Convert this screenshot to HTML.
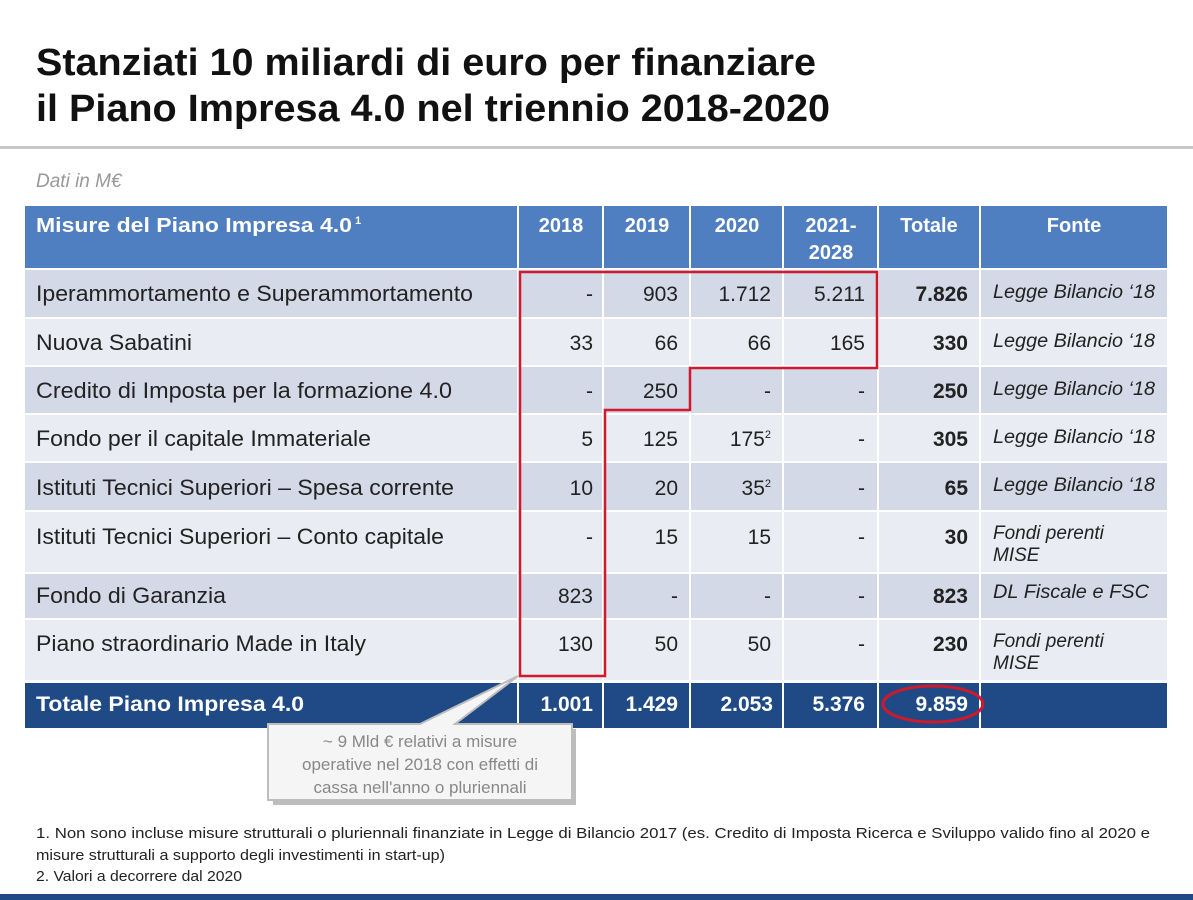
<!DOCTYPE html>
<html><head><meta charset="utf-8"><style>
html,body{margin:0;padding:0;background:#fff;}
svg{display:block;font-family:"Liberation Sans",Arial,sans-serif;}
</style></head><body>
<svg width="1193" height="900" viewBox="0 0 1193 900" xmlns="http://www.w3.org/2000/svg">
<rect width="1193" height="900" fill="#fff"/>
<text x="36" y="75" font-size="38" font-weight="bold" fill="#111" textLength="780" lengthAdjust="spacingAndGlyphs">Stanziati 10 miliardi di euro per finanziare</text>
<text x="36" y="121" font-size="38" font-weight="bold" fill="#111" textLength="794" lengthAdjust="spacingAndGlyphs">il Piano Impresa 4.0 nel triennio 2018-2020</text>
<rect x="0" y="146" width="1193" height="3" fill="#c8c8c8"/>
<text x="36" y="187" font-size="19" font-style="italic" fill="#999">Dati in M€</text>

<rect x="25" y="206" width="1142" height="62" fill="#4f7fc0"/>
<g fill="#fff" font-weight="bold" font-size="20">
<text x="36" y="232"><tspan textLength="316" lengthAdjust="spacingAndGlyphs">Misure del Piano Impresa 4.0</tspan><tspan font-size="11" dy="-8"> 1</tspan></text>
<text x="561" y="232" text-anchor="middle">2018</text>
<text x="647" y="232" text-anchor="middle">2019</text>
<text x="737" y="232" text-anchor="middle">2020</text>
<text x="831" y="232" text-anchor="middle">2021-</text>
<text x="831" y="259" text-anchor="middle">2028</text>
<text x="929" y="232" text-anchor="middle">Totale</text>
<text x="1074" y="232" text-anchor="middle">Fonte</text>
</g>

<rect x="25" y="270" width="1142" height="47" fill="#d3d9e7"/>
<rect x="25" y="319" width="1142" height="46" fill="#e9ecf3"/>
<rect x="25" y="367" width="1142" height="46" fill="#d3d9e7"/>
<rect x="25" y="415" width="1142" height="46" fill="#e9ecf3"/>
<rect x="25" y="463" width="1142" height="47" fill="#d3d9e7"/>
<rect x="25" y="512" width="1142" height="60" fill="#e9ecf3"/>
<rect x="25" y="574" width="1142" height="44" fill="#d3d9e7"/>
<rect x="25" y="620" width="1142" height="60" fill="#e9ecf3"/>
<rect x="25" y="683" width="1142" height="45" fill="#1f4a85"/>
<g stroke="#fff" stroke-width="2">
<line x1="518" y1="206" x2="518" y2="728"/><line x1="603" y1="206" x2="603" y2="728"/>
<line x1="690" y1="206" x2="690" y2="728"/><line x1="783" y1="206" x2="783" y2="728"/>
<line x1="878" y1="206" x2="878" y2="728"/><line x1="980" y1="206" x2="980" y2="728"/>
</g>

<g font-size="22" fill="#222" lengthAdjust="spacingAndGlyphs">
<text x="36" y="301" textLength="437" lengthAdjust="spacingAndGlyphs">Iperammortamento e Superammortamento</text>
<text x="36" y="350" textLength="156" lengthAdjust="spacingAndGlyphs">Nuova Sabatini</text>
<text x="36" y="398" textLength="416" lengthAdjust="spacingAndGlyphs">Credito di Imposta  per la formazione 4.0</text>
<text x="36" y="446" textLength="335" lengthAdjust="spacingAndGlyphs">Fondo per il capitale Immateriale</text>
<text x="36" y="495" textLength="418" lengthAdjust="spacingAndGlyphs">Istituti Tecnici Superiori – Spesa corrente</text>
<text x="36" y="544" textLength="408" lengthAdjust="spacingAndGlyphs">Istituti Tecnici Superiori – Conto capitale</text>
<text x="36" y="603" textLength="190" lengthAdjust="spacingAndGlyphs">Fondo di Garanzia</text>
<text x="36" y="651" textLength="330" lengthAdjust="spacingAndGlyphs">Piano straordinario Made in Italy</text>
</g>
<g font-size="21" fill="#222" text-anchor="end">
<text x="593" y="301">-</text><text x="678" y="301">903</text><text x="771" y="301">1.712</text><text x="865" y="301">5.211</text>
<text x="593" y="350">33</text><text x="678" y="350">66</text><text x="771" y="350">66</text><text x="865" y="350">165</text>
<text x="593" y="398">-</text><text x="678" y="398">250</text><text x="771" y="398">-</text><text x="865" y="398">-</text>
<text x="593" y="446">5</text><text x="678" y="446">125</text><text x="771" y="446">175<tspan font-size="11" dy="-8">2</tspan></text><text x="865" y="446">-</text>
<text x="593" y="495">10</text><text x="678" y="495">20</text><text x="771" y="495">35<tspan font-size="11" dy="-8">2</tspan></text><text x="865" y="495">-</text>
<text x="593" y="544">-</text><text x="678" y="544">15</text><text x="771" y="544">15</text><text x="865" y="544">-</text>
<text x="593" y="603">823</text><text x="678" y="603">-</text><text x="771" y="603">-</text><text x="865" y="603">-</text>
<text x="593" y="651">130</text><text x="678" y="651">50</text><text x="771" y="651">50</text><text x="865" y="651">-</text>
</g>
<g font-size="21" font-weight="bold" fill="#222" text-anchor="end">
<text x="968" y="301">7.826</text><text x="968" y="350">330</text><text x="968" y="398">250</text>
<text x="968" y="446">305</text><text x="968" y="495">65</text><text x="968" y="544">30</text>
<text x="968" y="603">823</text><text x="968" y="651">230</text>
</g>
<g font-size="19" font-style="italic" fill="#222">
<text x="993" y="298" textLength="162" lengthAdjust="spacingAndGlyphs">Legge Bilancio ‘18</text>
<text x="993" y="347" textLength="162" lengthAdjust="spacingAndGlyphs">Legge Bilancio ‘18</text>
<text x="993" y="395" textLength="162" lengthAdjust="spacingAndGlyphs">Legge Bilancio ‘18</text>
<text x="993" y="443" textLength="162" lengthAdjust="spacingAndGlyphs">Legge Bilancio ‘18</text>
<text x="993" y="491" textLength="162" lengthAdjust="spacingAndGlyphs">Legge Bilancio ‘18</text>
<text x="993" y="539">Fondi perenti</text><text x="993" y="561">MISE</text>
<text x="993" y="598" textLength="156" lengthAdjust="spacingAndGlyphs">DL Fiscale e FSC</text>
<text x="993" y="647">Fondi perenti</text><text x="993" y="669">MISE</text>
</g>
<g font-size="21" font-weight="bold" fill="#fff">
<text x="36" y="711" textLength="268" lengthAdjust="spacingAndGlyphs">Totale Piano Impresa 4.0</text>
<g text-anchor="end">
<text x="593" y="711">1.001</text><text x="678" y="711">1.429</text><text x="773" y="711">2.053</text><text x="865" y="711">5.376</text><text x="968" y="711">9.859</text>
</g></g>
<ellipse cx="933" cy="704" rx="50" ry="18" fill="none" stroke="#d0192b" stroke-width="3"/>

<polygon points="520,272 877,272 877,368 690,368 690,410 605,410 605,676 520,676" fill="none" stroke="#d0192b" stroke-width="2.5"/>

<rect x="273" y="729" width="303" height="76" fill="#bdbdbd"/>
<polygon points="268,724 420,724 518,676 455,724 572,724 572,800 268,800" fill="#f5f5f5" stroke="#bdbdbd" stroke-width="2"/>
<g font-size="17" fill="#888" text-anchor="middle">
<text x="420" y="747">~ 9 Mld € relativi a misure</text>
<text x="420" y="770">operative nel 2018 con effetti di</text>
<text x="420" y="793">cassa nell'anno o pluriennali</text>
</g>

<g font-size="15" fill="#222">
<text x="36" y="838" textLength="1114" lengthAdjust="spacingAndGlyphs">1. Non sono incluse misure strutturali o pluriennali finanziate in Legge di Bilancio 2017 (es. Credito di Imposta Ricerca e Sviluppo valido fino al 2020 e</text>
<text x="36" y="860" textLength="409" lengthAdjust="spacingAndGlyphs">misure strutturali a supporto degli investimenti in start-up)</text>
<text x="36" y="881" textLength="206" lengthAdjust="spacingAndGlyphs">2. Valori a decorrere dal 2020</text>
</g>
<rect x="0" y="894" width="1193" height="6" fill="#1f4a85"/>
</svg>
</body></html>
